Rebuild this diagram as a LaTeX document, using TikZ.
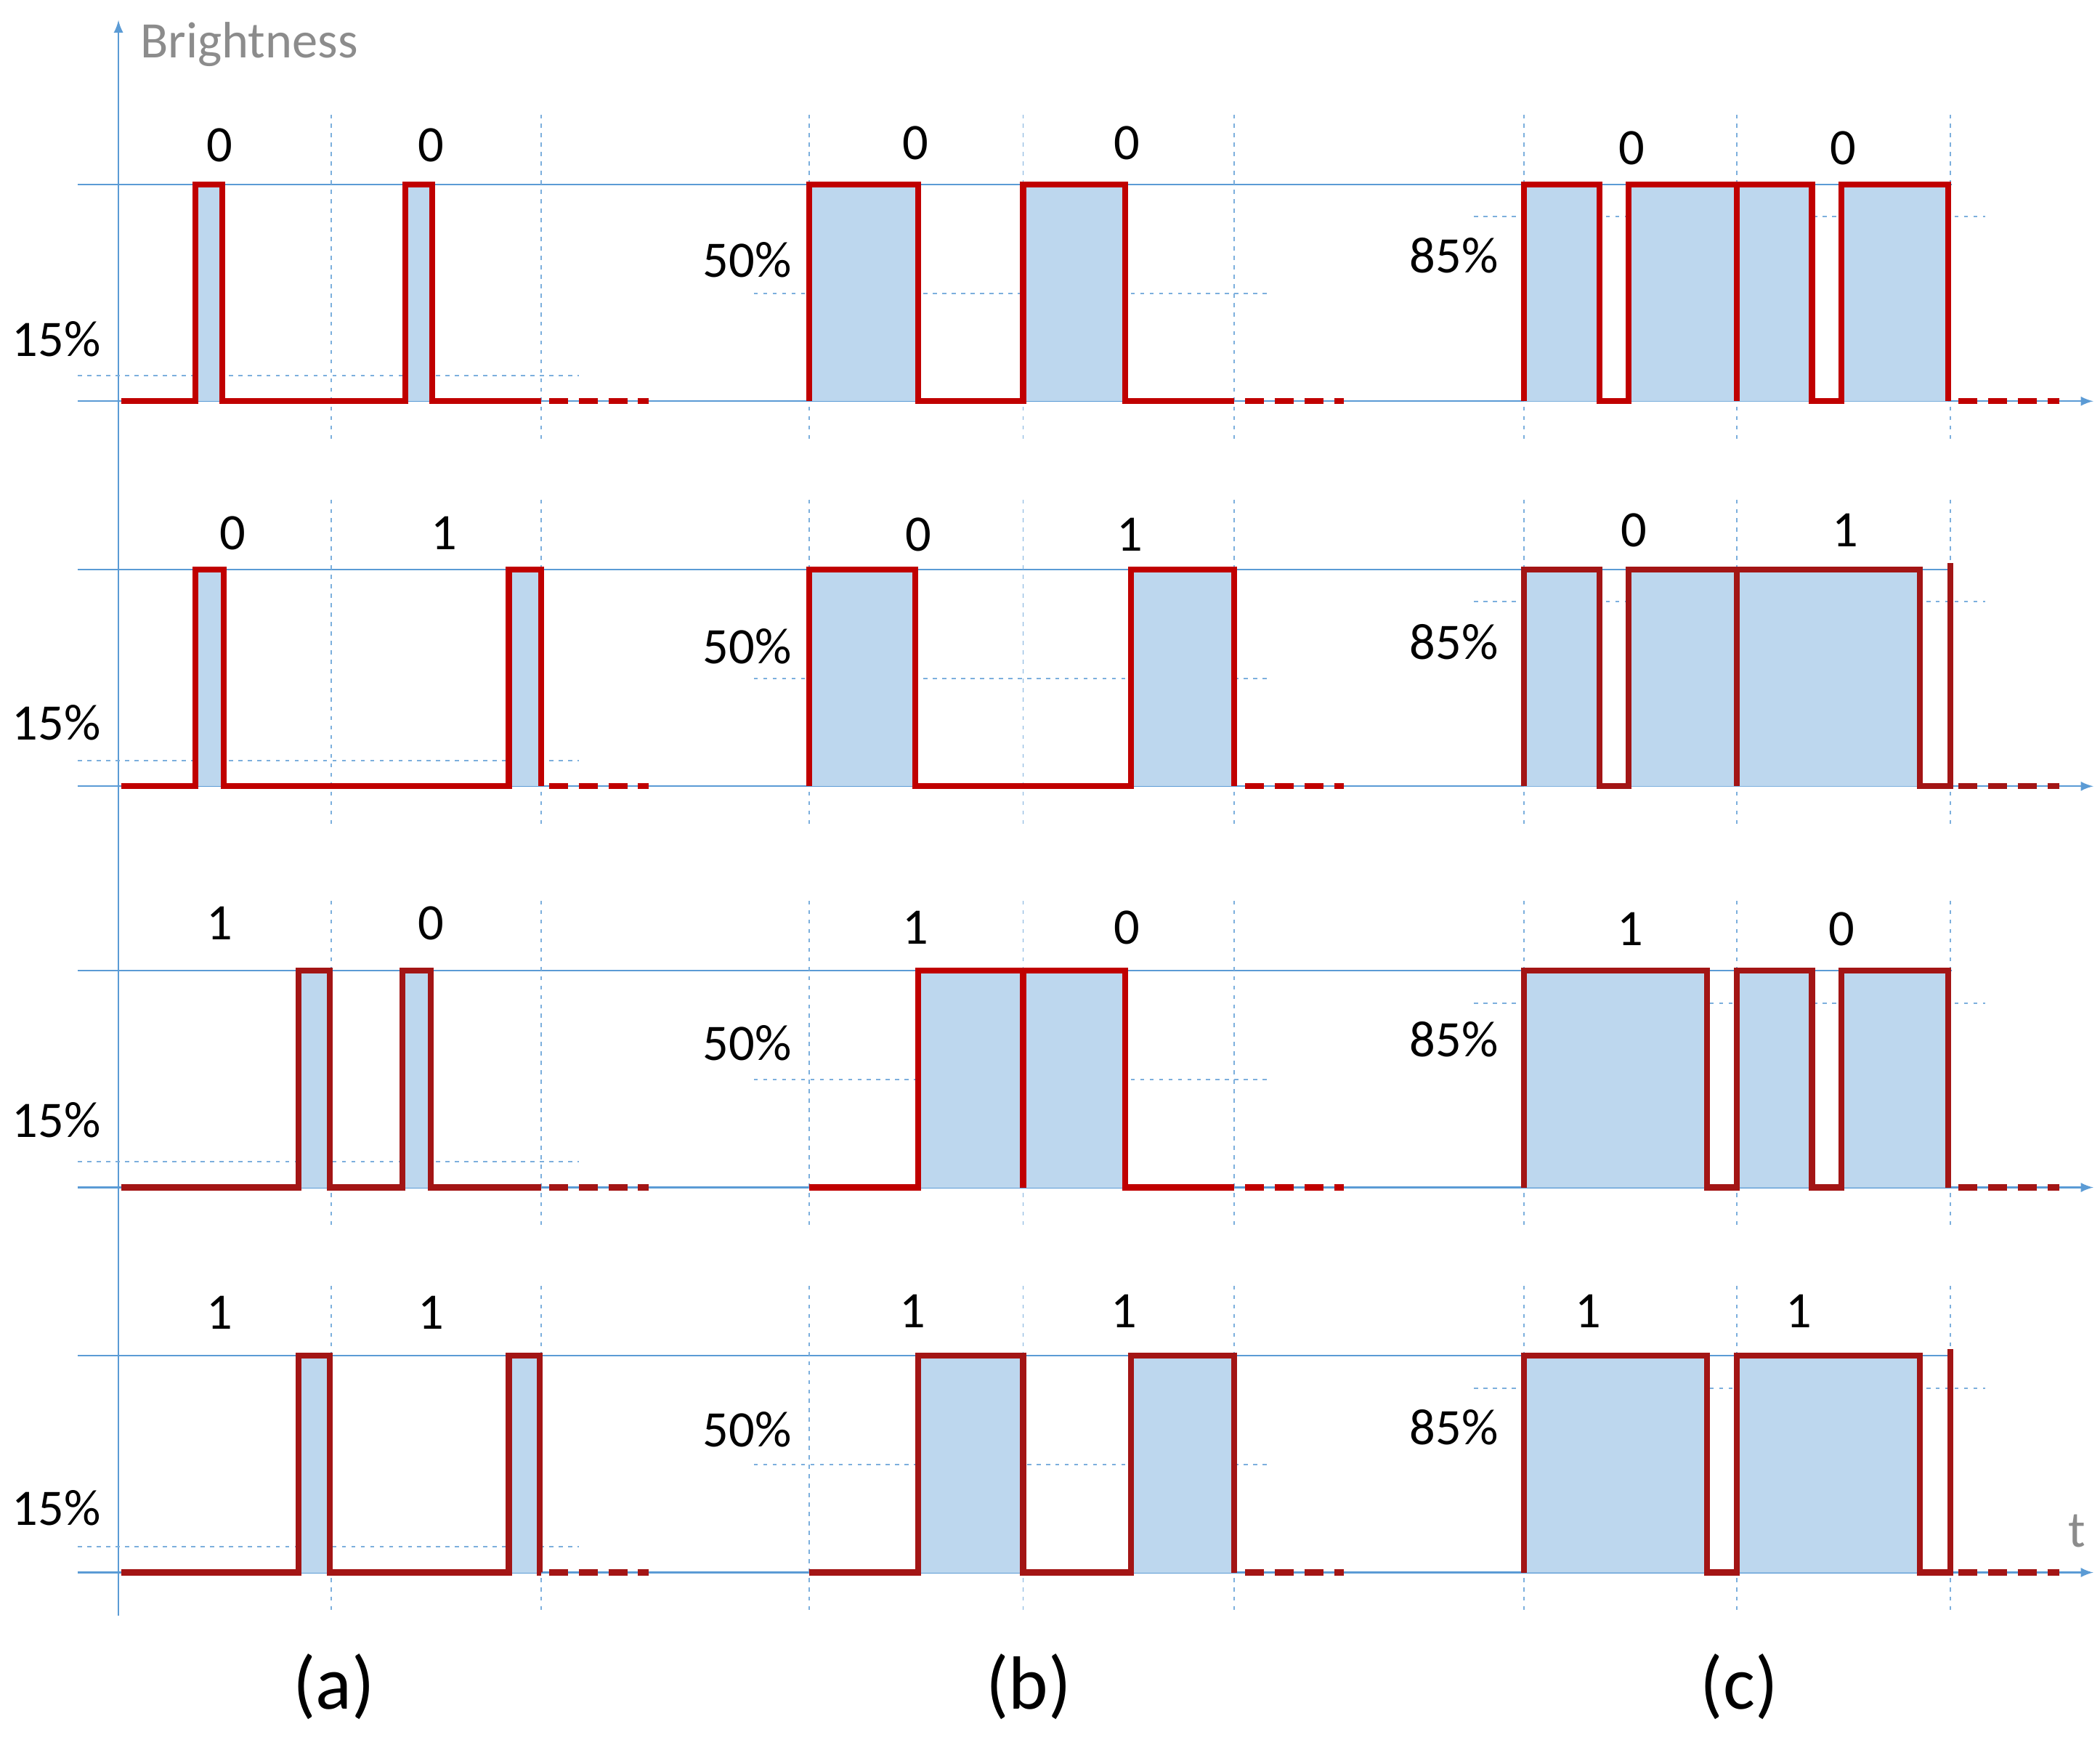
\documentclass[tikz,border=0pt]{standalone}
\usepackage{fontspec}
\setmainfont{Carlito}
\begin{document}
\definecolor{wred}{HTML}{C00000}
\definecolor{wdark}{HTML}{A31515}
\definecolor{wfill}{HTML}{BDD7EE}
\definecolor{bl}{HTML}{5B9BD5}
\definecolor{gr}{HTML}{8C8C8C}
\begin{tikzpicture}[x=0.5pt,y=-0.5pt,
  wave/.style={draw=#1,line width=2.2pt,line join=miter},
  wave/.default=wred,
  rdash/.style={draw=#1,line width=2.2pt,dash pattern=on 7pt off 4pt},
  rdash/.default=wred,
  axl/.style={draw=bl,line width=0.6pt},
  dotv/.style={draw=bl!80,line width=0.5pt,dash pattern=on 1.5pt off 2pt},
  lbl/.style={font=\fontsize{19}{22}\selectfont,inner sep=0pt},
  captxt/.style={font=\fontsize{28}{32}\selectfont,inner sep=0pt}]
\useasboundingbox (0,0) rectangle (1560,1290);
\draw[axl,-latex] (88,1200) -- (88,15);
\node[lbl,text=gr,anchor=west] (bri) at (104,33) {Brightness};
\node[lbl,text=gr] (t) at (1543,1137) {t};
\newcommand\rowbase[2]{%
  \draw[axl] (58,#2) -- (1450,#2);
  \draw[axl,-latex] (58,#1) -- (1555,#1);
  \foreach \xx in {246,402,601,760,917,1132,1290,1449}{\draw[dotv] (\xx,#2-52) -- (\xx,#1+32);}
  \draw[dotv] (58,#1-19) -- (430,#1-19);
  \draw[dotv] (560,#1-80) -- (945,#1-80);
  \draw[dotv] (1095,#2+24) -- (1475,#2+24);
}
\newcommand\pa[6]{%
  \fill[wfill] (#3,#1) rectangle (#4,#1-161);
  \fill[wfill] (#5,#1) rectangle (#6,#1-161);
  \draw[wave=#2] (90,#1) -- (#3,#1) -- (#3,#1-161) -- (#4,#1-161) -- (#4,#1) -- (#5,#1) -- (#5,#1-161) -- (#6,#1-161) -- (#6,#1) -- (402,#1);
  \draw[rdash=#2] (408,#1) -- (482,#1);
}
\newcommand\pb[6]{%
  \fill[wfill] (#3,#1) rectangle (#4,#1-161);
  \fill[wfill] (#5,#1) rectangle (#6,#1-161);
  \draw[wave=#2] (601,#1) -- (#3,#1) -- (#3,#1-161) -- (#4,#1-161) -- (#4,#1) -- (#5,#1) -- (#5,#1-161) -- (#6,#1-161) -- (#6,#1) -- (917,#1);
  \draw[rdash=#2] (925,#1) -- (998,#1);
}
\newcommand\pc[7]{%
  \ifnum#7=1
  \fill[wfill] (1132,#1) -- (1132,#1-161) -- (#3,#1-161) -- (#3,#1) -- (#4,#1) -- (#4,#1-161) -- (#5,#1-161) -- (#5,#1) -- (#6,#1) -- (#6,#1-161) -- (1447,#1-161) -- (1447,#1) -- cycle;
  \draw[wave=#2] (1132,#1) -- (1132,#1-161) -- (#3,#1-161) -- (#3,#1) -- (#4,#1) -- (#4,#1-161) -- (#5,#1-161) -- (#5,#1) -- (#6,#1) -- (#6,#1-161) -- (1447,#1-161) -- (1447,#1);
  \else
  \fill[wfill] (1132,#1) -- (1132,#1-161) -- (#3,#1-161) -- (#3,#1) -- (#4,#1) -- (#4,#1-161) -- (#5,#1-161) -- (#5,#1) -- cycle;
  \draw[wave=#2] (1132,#1) -- (1132,#1-161) -- (#3,#1-161) -- (#3,#1) -- (#4,#1) -- (#4,#1-161) -- (#5,#1-161) -- (#5,#1) -- (#6,#1) -- (#6,#1-166);
  \fi
  \draw[rdash=#2] (1455,#1) -- (1530,#1);
}
\rowbase{298}{137}
\rowbase{584}{423}
\rowbase{882}{721}
\rowbase{1168}{1007}
\pa{298}{wred}{145}{165}{301}{321}
\pa{584}{wred}{145}{166}{378}{402}
\pa{882}{wdark}{222}{245}{299}{320}
\pa{1168}{wdark}{222}{245}{378}{401}
\pb{298}{wred}{601}{682}{760}{836}
\pb{584}{wred}{601}{680}{840}{917}
\pb{882}{wred}{682}{760}{760}{836}
\draw[wave] (760,721) -- (760,882);
\pb{1168}{wdark}{682}{760}{840}{917}
\pc{298}{wred}{1188}{1210}{1346}{1368}{1}
\draw[wave] (1290,137) -- (1290,298);
\pc{584}{wdark}{1188}{1210}{1426}{1449}{0}
\draw[wave=wdark] (1290,423) -- (1290,584);
\pc{882}{wdark}{1268}{1290}{1346}{1368}{1}
\pc{1168}{wdark}{1268}{1290}{1426}{1449}{0}
\node[lbl] (a1) at (163,108) {0}; \node[lbl] (a2) at (320,108) {0};
\node[lbl] (a3) at (173,396) {0}; \node[lbl] (a4) at (330,396) {1};
\node[lbl] (a5) at (163,686) {1}; \node[lbl] (a6) at (320,686) {0};
\node[lbl] (a7) at (163,975) {1}; \node[lbl] (a8) at (320,975) {1};
\node[lbl] (b1) at (680,106) {0}; \node[lbl] (b2) at (837,106) {0};
\node[lbl] (b3) at (682,397) {0}; \node[lbl] (b4) at (839,397) {1};
\node[lbl] (b5) at (680,689) {1}; \node[lbl] (b6) at (837,689) {0};
\node[lbl] (b7) at (678,974) {1}; \node[lbl] (b8) at (835,974) {1};
\node[lbl] (c1) at (1212,110) {0}; \node[lbl] (c2) at (1369,110) {0};
\node[lbl] (c3) at (1214,394) {0}; \node[lbl] (c4) at (1371,394) {1};
\node[lbl] (c5) at (1211,690) {1}; \node[lbl] (c6) at (1368,690) {0};
\node[lbl] (c7) at (1180,974) {1}; \node[lbl] (c8) at (1336,974) {1};
\foreach \yy/\n in {252/1,537/2,832/3,1120/4}{\node[lbl] (pa\n) at (42,\yy) {15\%};}
\foreach \yy/\n in {193/1,480/2,775/3,1062/4}{\node[lbl] (pb\n) at (555,\yy) {50\%};}
\foreach \yy/\n in {190/1,477/2,772/3,1060/4}{\node[lbl] (pc\n) at (1080,\yy) {85\%};}
\node[captxt] (ca) at (248,1253) {(a)};
\node[captxt] (cb) at (764,1253) {(b)};
\node[captxt] (cc) at (1292,1253) {(c)};
\end{tikzpicture}
\end{document}
